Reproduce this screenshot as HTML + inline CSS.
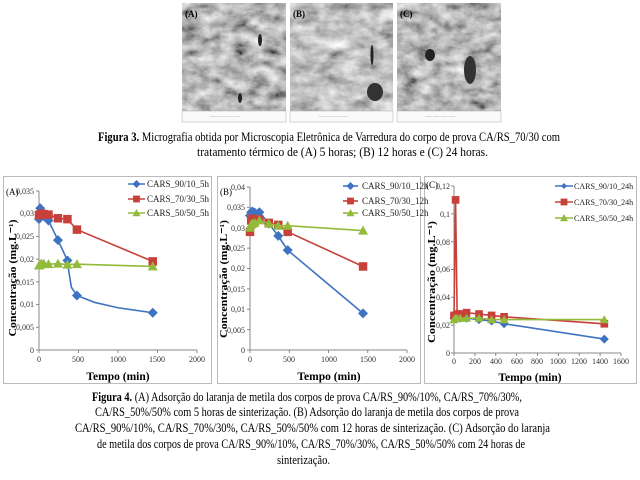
<!DOCTYPE html>
<html><head><meta charset="utf-8"><style>
body{margin:0;background:#fff;width:640px;height:480px;overflow:hidden}
svg{display:block}
.t{font-family:"Liberation Serif",serif;fill:#000}
.tk{font-family:"Liberation Serif",serif;font-size:8px;fill:#333}
.lg{font-family:"Liberation Serif",serif;font-size:9px;fill:#222}
</style></head><body>
<svg id="s" width="640" height="480" xmlns="http://www.w3.org/2000/svg">
<defs>
<filter id="n" x="0" y="0" width="100%" height="100%"><feTurbulence type="fractalNoise" baseFrequency="0.06 0.09" numOctaves="4" seed="3"/><feColorMatrix type="matrix" values="0.6 0.6 0.6 0 -0.42 0.6 0.6 0.6 0 -0.42 0.6 0.6 0.6 0 -0.42 0 0 0 0 1"/></filter>
<filter id="n2" x="0" y="0" width="100%" height="100%"><feTurbulence type="fractalNoise" baseFrequency="0.05 0.08" numOctaves="4" seed="9"/><feColorMatrix type="matrix" values="0.6 0.6 0.6 0 -0.36 0.6 0.6 0.6 0 -0.36 0.6 0.6 0.6 0 -0.36 0 0 0 0 1"/></filter>
</defs>
<g>
<rect x="182" y="3" width="104" height="108" filter="url(#n)"/>
<rect x="182" y="111" width="104" height="11" fill="#fafafa" stroke="#aaa" stroke-width="0.5"/>
<rect x="290" y="3" width="103" height="108" filter="url(#n2)"/>
<rect x="290" y="111" width="103" height="11" fill="#fafafa" stroke="#aaa" stroke-width="0.5"/>
<rect x="397" y="3" width="104" height="108" filter="url(#n)"/>
<rect x="397" y="111" width="104" height="11" fill="#fafafa" stroke="#aaa" stroke-width="0.5"/>
<g fill="#222"><ellipse cx="240" cy="98" rx="2" ry="5"/><ellipse cx="260" cy="40" rx="2" ry="6"/><ellipse cx="372" cy="55" rx="1.5" ry="10"/><ellipse cx="375" cy="92" rx="8" ry="9" fill="#333"/><ellipse cx="430" cy="55" rx="5" ry="6"/><ellipse cx="470" cy="70" rx="6" ry="14" fill="#333"/></g>
<g fill="#777" font-size="3" font-family="Liberation Sans,sans-serif"><text x="210" y="117">~~~~  ~~~~  ~~~~  ~~~~</text><text x="318" y="117">~~~~  ~~~~  ~~~~  ~~~~</text><text x="425" y="117">~~~~  ~~~~  ~~~~  ~~~~</text></g>
<text x="185" y="17" class="t" font-size="9" font-weight="bold" fill="#112">(A)</text>
<text x="293" y="17" class="t" font-size="9" font-weight="bold">(B)</text>
<text x="400" y="17" class="t" font-size="9" font-weight="bold">(C)</text>
</g>
<text x="98" y="141" class="t" font-size="12.5" textLength="462" lengthAdjust="spacingAndGlyphs"><tspan font-weight="bold">Figura 3.</tspan> Micrografia  obtida por Microscopia Eletrônica de Varredura do corpo de prova CA/RS_70/30 com</text>
<text x="197" y="156" class="t" font-size="12.5" textLength="291" lengthAdjust="spacingAndGlyphs">tratamento  térmico de (A) 5 horas; (B) 12 horas e (C) 24 horas.</text>

<rect x="3.5" y="176.5" width="208" height="207" fill="#fff" stroke="#bbb"/>
<rect x="217.5" y="176.5" width="203" height="207" fill="#fff" stroke="#bbb"/>
<rect x="424.5" y="176.5" width="212" height="207" fill="#fff" stroke="#bbb"/>

<text x="6" y="195" class="t" font-size="9">(A)</text>
<g class="tk" text-anchor="end">
<text x="34" y="353">0</text><text x="34" y="330">0,005</text><text x="34" y="307">0,01</text><text x="34" y="285">0,015</text><text x="34" y="262">0,02</text><text x="34" y="239">0,025</text><text x="34" y="216">0,03</text><text x="34" y="194">0,035</text>
</g>
<g class="tk" text-anchor="middle">
<text x="39" y="362">0</text><text x="78" y="362">500</text><text x="118" y="362">1000</text><text x="157" y="362">1500</text><text x="197" y="362">2000</text>
</g>
<text x="118" y="380" class="t" font-size="11.5" font-weight="bold" text-anchor="middle">Tempo (min)</text>
<text transform="translate(16,278) rotate(-90)" class="t" font-size="11" font-weight="bold" text-anchor="middle" textLength="117" lengthAdjust="spacingAndGlyphs">Concentração (mg.L⁻¹)</text>

<text x="220" y="195" class="t" font-size="9">(B)</text>
<g class="tk" text-anchor="end">
<text x="245" y="353">0</text><text x="245" y="333">0,005</text><text x="245" y="312">0,01</text><text x="245" y="292">0,015</text><text x="245" y="271">0,02</text><text x="245" y="251">0,025</text><text x="245" y="231">0,03</text><text x="245" y="210">0,035</text><text x="245" y="190">0,04</text>
</g>
<g class="tk" text-anchor="middle">
<text x="250" y="362">0</text><text x="289" y="362">500</text><text x="329" y="362">1000</text><text x="368" y="362">1500</text><text x="407" y="362">2000</text>
</g>
<text x="329" y="380" class="t" font-size="11.5" font-weight="bold" text-anchor="middle">Tempo (min)</text>
<text transform="translate(227,279) rotate(-90)" class="t" font-size="11" font-weight="bold" text-anchor="middle" textLength="118" lengthAdjust="spacingAndGlyphs">Concentração (mg.L⁻¹)</text>

<text x="426" y="188" class="t" font-size="9">(C)</text>
<g class="tk" text-anchor="end">
<text x="450" y="356">0</text><text x="450" y="328">0,02</text><text x="450" y="300">0,04</text><text x="450" y="272">0,06</text><text x="450" y="245">0,08</text><text x="450" y="217">0,1</text><text x="450" y="189">0,12</text>
</g>
<g class="tk" text-anchor="middle">
<text x="454" y="364">0</text><text x="475" y="364">200</text><text x="496" y="364">400</text><text x="517" y="364">600</text><text x="537" y="364">800</text><text x="558" y="364">1000</text><text x="579" y="364">1200</text><text x="600" y="364">1400</text><text x="621" y="364">1600</text>
</g>
<text x="530" y="381" class="t" font-size="11.5" font-weight="bold" text-anchor="middle">Tempo (min)</text>
<text transform="translate(435,282) rotate(-90)" class="t" font-size="11" font-weight="bold" text-anchor="middle" textLength="122" lengthAdjust="spacingAndGlyphs">Concentração (mg.L⁻¹)</text>

<g class="lg">
<text x="147" y="187">CARS_90/10_5h</text><text x="147" y="202">CARS_70/30_5h</text><text x="147" y="216">CARS_50/50_5h</text>
<text x="362" y="189">CARS_90/10_12h</text><text x="362" y="204">CARS_70/30_12h</text><text x="362" y="216">CARS_50/50_12h</text>
<text x="574" y="189" font-size="8">CARS_90/10_24h</text><text x="574" y="205" font-size="8">CARS_70/30_24h</text><text x="574" y="221" font-size="8">CARS_50/50_24h</text>
</g>

<text x="92" y="401" class="t" font-size="13" textLength="430" lengthAdjust="spacingAndGlyphs"><tspan font-weight="bold">Figura 4.</tspan> (A) Adsorção do laranja de metila dos corpos de prova CA/RS_90%/10%, CA/RS_70%/30%,</text>
<text x="95" y="416" class="t" font-size="13" textLength="424" lengthAdjust="spacingAndGlyphs">CA/RS_50%/50% com 5 horas de sinterização. (B) Adsorção do laranja de metila dos corpos de prova</text>
<text x="75" y="432" class="t" font-size="13" textLength="475" lengthAdjust="spacingAndGlyphs">CA/RS_90%/10%, CA/RS_70%/30%, CA/RS_50%/50% com 12 horas de sinterização. (C) Adsorção do laranja</text>
<text x="97" y="448" class="t" font-size="13" textLength="428" lengthAdjust="spacingAndGlyphs">de metila dos corpos de prova CA/RS_90%/10%, CA/RS_70%/30%, CA/RS_50%/50% com 24 horas de</text>
<text x="277" y="464" class="t" font-size="13" textLength="53" lengthAdjust="spacingAndGlyphs">sinterização.</text>
<g id="g"></g>
</svg>
<script>
var NS="http://www.w3.org/2000/svg",G=document.getElementById("g");
function el(n,a){var e=document.createElementNS(NS,n);for(var k in a)e.setAttribute(k,a[k]);G.appendChild(e);return e;}
var B="#3f73c2",R="#c8403a",Gr="#92bb3c";
function mk(type,x,y,c,s){
 if(type=="d")el("polygon",{points:(x)+","+(y-s)+" "+(x+s)+","+y+" "+x+","+(y+s)+" "+(x-s)+","+y,fill:c});
 else if(type=="s")el("rect",{x:x-s*0.85,y:y-s*0.85,width:s*1.7,height:s*1.7,fill:c});
 else el("polygon",{points:x+","+(y-s)+" "+(x+s)+","+(y+s*0.8)+" "+(x-s)+","+(y+s*0.8),fill:c});
}
function chart(x0,xs,y0,ys,xmax,ymax,nx,ny,series,s){
 var xe=x0+xmax*xs,yt=y0-ymax*ys;
 el("line",{x1:x0,y1:y0,x2:xe,y2:y0,stroke:"#888","stroke-width":1});
 el("line",{x1:x0,y1:y0,x2:x0,y2:yt,stroke:"#888","stroke-width":1});
 for(var i=0;i<=nx;i++){var x=x0+i*(xe-x0)/nx;el("line",{x1:x,y1:y0,x2:x,y2:y0+3,stroke:"#888"});}
 for(var i=0;i<=ny;i++){var y=y0-i*(y0-yt)/ny;el("line",{x1:x0-3,y1:y,x2:x0,y2:y,stroke:"#888"});}
 series.forEach(function(se){
  var p=se.d.map(function(d){return [x0+d[0]*xs,y0-d[1]*ys];});
  el("polyline",{points:p.map(function(q){return q.join(",")}).join(" "),fill:"none",stroke:se.c,"stroke-width":1.6});
  se.d.forEach(function(d,i){if(d[2]!==0)mk(se.m,p[i][0],p[i][1],se.c,s);});
 });
}
chart(39,158/2000,350,159/0.035,2000,0.035,4,7,[
 {c:B,m:"d",d:[[0,0.0288],[15,0.0312],[30,0.0305],[60,0.0295],[120,0.0285],[240,0.0242],[360,0.0197],[380,0.017,0],[410,0.0138,0],[480,0.012],[700,0.0105,0],[1000,0.0093,0],[1440,0.0082]]},
 {c:R,m:"s",d:[[0,0.0297],[15,0.0298],[30,0.0300],[60,0.0299],[120,0.0298],[240,0.0290],[360,0.0288],[480,0.0265],[1440,0.0195]]},
 {c:Gr,m:"t",d:[[0,0.0186],[15,0.0188],[30,0.0190],[60,0.0190],[120,0.0189],[240,0.0190],[360,0.0188],[480,0.0189],[1440,0.0184]]}
],5);
chart(250,157/2000,350,163/0.04,2000,0.04,4,8,[
 {c:B,m:"d",d:[[0,0.0330],[15,0.0338],[30,0.0340],[60,0.0337],[120,0.0338],[240,0.0310],[360,0.0280],[480,0.0245],[1440,0.0090]]},
 {c:R,m:"s",d:[[0,0.0290],[15,0.0318],[30,0.0322],[60,0.0318],[120,0.0320],[240,0.0312],[360,0.0307],[480,0.0290],[1440,0.0205]]},
 {c:Gr,m:"t",d:[[0,0.0300],[15,0.0308],[30,0.0310],[60,0.0312],[120,0.0318],[240,0.0310],[360,0.0305],[480,0.0305],[1440,0.0293]]}
],5);
chart(454,167/1600,353,167/0.12,1600,0.12,8,6,[
 {c:B,m:"d",d:[[0,0.025],[15,0.026],[30,0.026],[60,0.025],[120,0.025],[240,0.024],[360,0.023],[480,0.021],[1440,0.010]]},
 {c:R,m:"s",d:[[0,0.027],[15,0.110],[30,0.028],[60,0.028],[120,0.029],[240,0.028],[360,0.027],[480,0.026],[1440,0.021]]},
 {c:Gr,m:"t",d:[[0,0.024],[15,0.025],[30,0.025],[60,0.025],[120,0.025],[240,0.025],[360,0.024],[480,0.024],[1440,0.024]]}
],4.5);
[[128,145,184,B,"d"],[128,145,199,R,"s"],[128,145,213,Gr,"t"],[343,358,186,B,"d"],[343,358,201,R,"s"],[343,358,213,Gr,"t"],[555,573,186,B,"d"],[555,573,202,R,"s"],[555,573,218,Gr,"t"]].forEach(function(l){
 el("line",{x1:l[0],y1:l[2],x2:l[1],y2:l[2],stroke:l[3],"stroke-width":1.6});
 mk(l[4],(l[0]+l[1])/2,l[2],l[3],l[4]=="d"&&l[0]>500?3:4);
});
</script>
</body></html>
